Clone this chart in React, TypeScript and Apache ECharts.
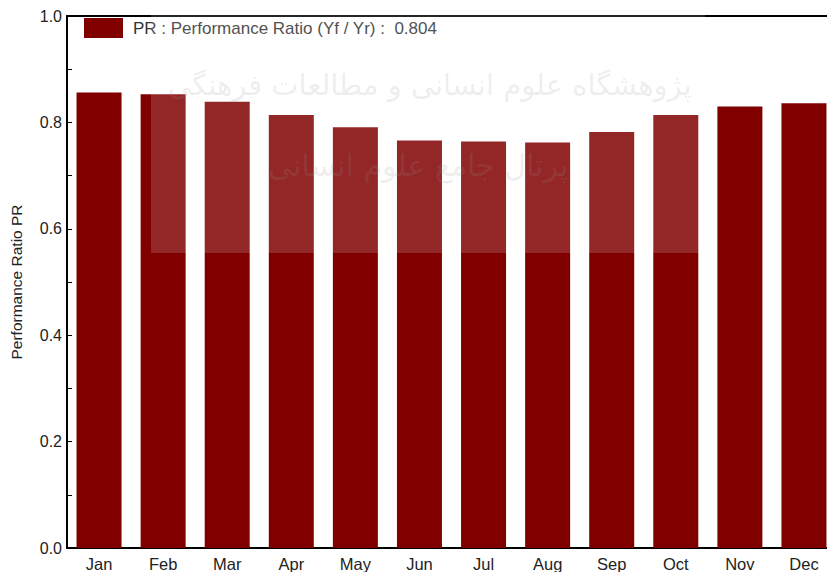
import React, { useEffect, useRef } from "react";
import * as echarts from "echarts";

const months = ["Jan", "Feb", "Mar", "Apr", "May", "Jun", "Jul", "Aug", "Sep", "Oct", "Nov", "Dec"];
const prValues = [0.856, 0.853, 0.839, 0.814, 0.791, 0.766, 0.764, 0.762, 0.782, 0.814, 0.830, 0.836];
const seriesName = "PR : Performance Ratio (Yf / Yr) :  0.804";
const yAxisName = "Performance Ratio PR";
const watermarkLine1 = "پژوهشگاه علوم انسانی و مطالعات فرهنگی";
const watermarkLine2 = "پرتال جامع علوم انسانی";

const FONT = "'Liberation Sans', Arial, sans-serif";

export default function App() {
  const ref = useRef<HTMLDivElement>(null);
  useEffect(() => {
    if (!ref.current) return;
    const chart = echarts.init(ref.current, undefined, { renderer: "svg" });
    chart.setOption({
      animation: false,
      backgroundColor: "#ffffff",
      textStyle: { fontFamily: FONT },
      grid: { left: 67, top: 16, width: 769, bottom: 24, outerBoundsMode: "none", containLabel: false },
      legend: {
        left: 84,
        top: 18,
        itemWidth: 39,
        itemHeight: 20,
        icon: "rect",
        padding: 0,
        selectedMode: false,
        textStyle: { fontSize: 17, color: "#333333", fontFamily: FONT, padding: [2, 0, 0, 5] },
        data: [seriesName],
      },
      xAxis: [
        {
          type: "category",
          data: months,
          position: "bottom",
          boundaryGap: true,
          axisLine: { lineStyle: { color: "#000000", width: 2 } },
          axisTick: { inside: true, length: 5, interval: 0, alignWithLabel: false, lineStyle: { color: "#000", width: 1 } },
          axisLabel: { fontSize: 16.5, color: "#222222", margin: 7, fontFamily: FONT, interval: 0 },
          splitLine: { show: false },
        },
        {
          type: "category",
          data: months,
          position: "top",
          boundaryGap: true,
          axisLine: { lineStyle: { color: "#000000", width: 2 } },
          axisTick: { inside: true, length: 5, interval: 0, alignWithLabel: false, lineStyle: { color: "#000", width: 1 } },
          axisLabel: { show: false },
          splitLine: { show: false },
        },
      ],
      yAxis: {
        type: "value",
        min: 0,
        max: 1,
        interval: 0.2,
        name: yAxisName,
        nameLocation: "middle",
        nameGap: 43,
        nameTextStyle: { fontSize: 15.5, color: "#222222", fontFamily: FONT },
        axisLine: { show: true, lineStyle: { color: "#000000", width: 2 } },
        axisTick: { show: true, inside: true, length: 5, lineStyle: { color: "#000", width: 1 } },
        minorTick: { show: true, splitNumber: 2, length: 5, lineStyle: { color: "#000", width: 1 } },
        axisLabel: {
          fontSize: 16,
          color: "#222222",
          margin: 5,
          fontFamily: FONT,
          formatter: (v: number) => v.toFixed(1),
        },
        splitLine: { show: false },
      },
      series: [
        {
          name: seriesName,
          type: "bar",
          data: prValues,
          barWidth: 45,
          itemStyle: { color: "#800000" },
          xAxisIndex: 0,
        },
      ],
      graphic: [
        {
          type: "rect",
          left: 151,
          top: 12,
          shape: { width: 554, height: 241 },
          style: { fill: "rgba(255,255,255,0.15)" },
          z: 100,
          silent: true,
        },
        {
          type: "text",
          left: 168,
          top: 70,
          style: {
            text: watermarkLine1,
            fontSize: 29,
            fill: "rgba(150,150,150,0.16)",
            fontFamily: "'DejaVu Sans', sans-serif",
          },
          z: 101,
          silent: true,
        },
        {
          type: "text",
          left: 268,
          top: 150,
          style: {
            text: watermarkLine2,
            fontSize: 30,
            fill: "rgba(150,150,150,0.16)",
            fontFamily: "'DejaVu Sans', sans-serif",
          },
          z: 101,
          silent: true,
        },
      ],
    });
    return () => chart.dispose();
  }, []);
  return <div ref={ref} style={{ width: 827, height: 572, position: "absolute", left: 0, top: 0 }} />;
}
